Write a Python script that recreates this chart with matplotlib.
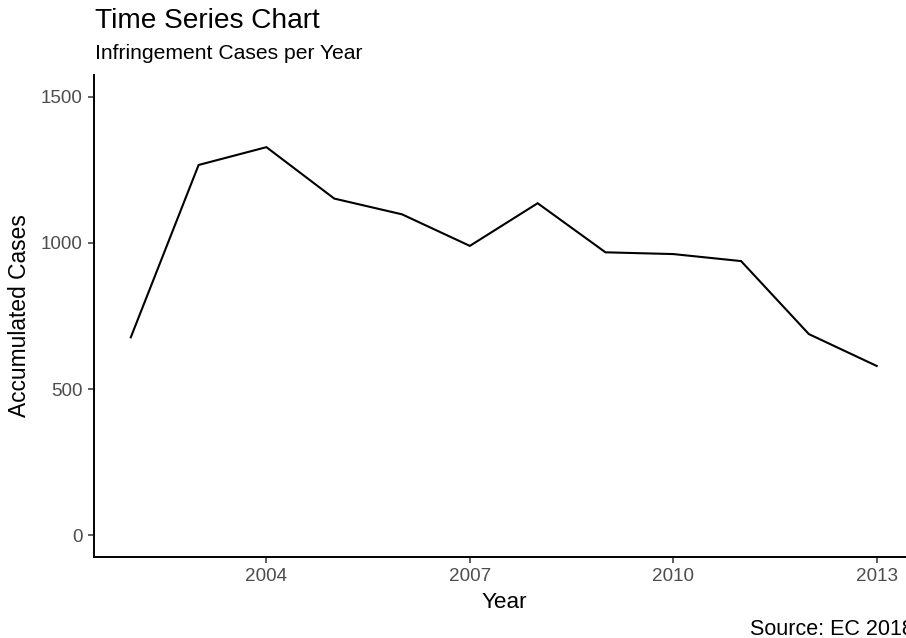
import matplotlib
matplotlib.use("Agg")
import matplotlib.pyplot as plt

years = [2002, 2003, 2004, 2005, 2006, 2007, 2008, 2009, 2010, 2011, 2012, 2013]
cases = [677, 1267, 1328, 1152, 1098, 990, 1136, 968, 962, 938, 688, 579]
x_ticks = [2004, 2007, 2010, 2013]
y_ticks = [0, 500, 1000, 1500]

plt.rcParams['font.family'] = ['Liberation Sans', 'DejaVu Sans']

W, H = 906, 638
fig = plt.figure(figsize=(W / 100, H / 100), dpi=100)
fig.patch.set_facecolor('white')

left, right, top, bottom = 93.5, 914, 75, 557
ax = fig.add_axes([left / W, 1 - bottom / H, (right - left) / W, (bottom - top) / H])
ax.plot(years, cases, color='black', linewidth=1.5, solid_joinstyle='miter')

ax.set_xlim(2001.45, 2013.55)
ax.set_ylim(-75, 1575)
ax.set_xticks(x_ticks)
ax.set_xticklabels([str(v) for v in x_ticks])
ax.set_yticks(y_ticks)
ax.set_yticklabels([str(v) for v in y_ticks])

for s in ['top', 'right']:
    ax.spines[s].set_visible(False)
for s in ['left', 'bottom']:
    ax.spines[s].set_linewidth(1.4)
    ax.spines[s].set_color('black')

ax.tick_params(axis='both', length=4, width=1.1, color='#333333',
               labelcolor='#4D4D4D', labelsize=13.6, pad=4)

fig.text(95 / W, 1 - 28 / H, 'Time Series Chart', fontsize=20.2, color='black',
         ha='left', va='baseline')
fig.text(95 / W, 1 - 59 / H, 'Infringement Cases per Year', fontsize=15.2,
         color='black', ha='left', va='baseline')
fig.text((left + right) / 2 / W, 1 - 608 / H, 'Year', fontsize=16.2,
         color='black', ha='center', va='baseline')
fig.text(20 / W, 1 - 316 / H, 'Accumulated Cases', fontsize=16.4,
         color='black', ha='center', va='center', rotation=90)
fig.text(914 / W, 1 - 635 / H, 'Source: EC 2018', fontsize=15.5,
         color='black', ha='right', va='baseline')

fig.savefig('out.png', dpi=100, facecolor='white')
